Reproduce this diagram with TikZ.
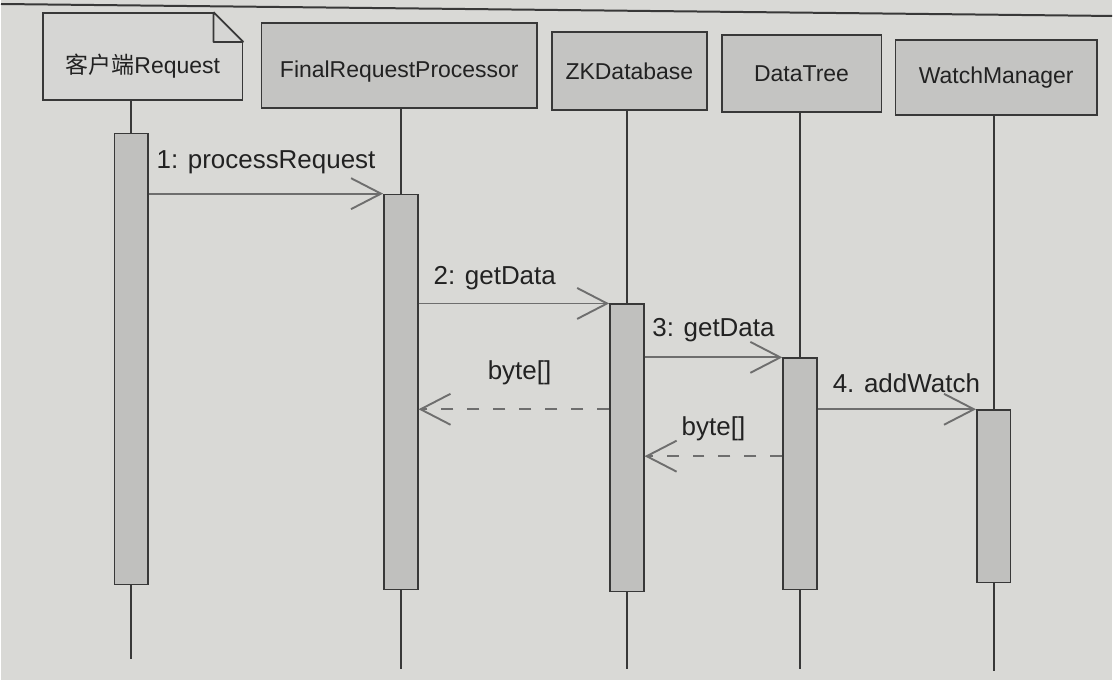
\documentclass[tikz,border=0pt]{standalone}
\usepackage{fontspec}
\setmainfont{Liberation Sans}
\newfontfamily\cjk{Noto Sans CJK SC}
\usetikzlibrary{arrows.meta}
\definecolor{paper}{HTML}{D9D9D6}
\definecolor{boxgray}{HTML}{C4C4C2}
\definecolor{notegray}{HTML}{D6D6D4}
\definecolor{actgray}{HTML}{C0C0BE}
\definecolor{edge}{HTML}{383838}
\definecolor{msggray}{HTML}{6E6E6E}
\definecolor{ink}{HTML}{222222}
\begin{document}
\begin{tikzpicture}[x=1pt,y=-1pt,
  hdr/.style={draw=edge,fill=boxgray,line width=1.8pt,inner sep=0pt,text=ink,font=\fontsize{23}{27}\selectfont},
  act/.style={draw=edge,fill=actgray,line width=1.5pt,minimum width=34pt,anchor=north,inner sep=0pt},
  life/.style={draw=edge,line width=1.7pt},
  msg/.style={draw=msggray,line width=1.9pt,-{Straight Barb[length=30pt,width=31pt]}},
  ret/.style={msg,dash pattern=on 12pt off 14pt},
  lab/.style={inner sep=0pt,text=ink,font=\fontsize{26}{30}\selectfont}]
\fill[paper] (0,0) rectangle (1113,681);
\draw[line width=2pt,edge] (0,4) -- (1113,16);
% heads
\node[hdr,fill=notegray,minimum width=200pt,minimum height=87pt,text height=34pt,text depth=0pt] (cl) at (142,56.5) {{\cjk 客户端}Request};
\fill[paper] ([xshift=-30pt]cl.north east) -- (cl.north east) -- ([yshift=-30pt]cl.north east) -- cycle;
\draw[edge,line width=1.8pt,line join=round] ([xshift=-30pt]cl.north east) -- ([yshift=-30pt]cl.north east)
  ([xshift=-30pt]cl.north east) -- ([xshift=-30pt,yshift=-30pt]cl.north east) -- ([yshift=-30pt]cl.north east);
\node[hdr,minimum width=276pt,minimum height=85pt,text height=25pt,text depth=0pt] (frp) at (399,65.5) {FinalRequestProcessor};
\node[hdr,minimum width=155pt,minimum height=78pt] (zk) at (629.5,71) {ZKDatabase};
\node[hdr,minimum width=160pt,minimum height=77pt] (dt) at (802,73.5) {DataTree};
\node[hdr,minimum width=202pt,minimum height=75pt] (wm) at (997,77.5) {WatchManager};
% activations
\node[act,minimum height=452pt] (acl) at (130.5,133) {};
\node[act,minimum height=396pt] (afrp) at (400.5,194) {};
\node[act,minimum height=288pt] (azk) at (627,304) {};
\node[act,minimum height=232pt] (adt) at (800.5,358) {};
\node[act,minimum height=173pt] (awm) at (994.5,410) {};
\foreach \h/\a/\e in {cl/acl/660,frp/afrp/670,zk/azk/670,dt/adt/670,wm/awm/672}
  \draw[life] (\a.north |- \h.south) -- (\a.north) (\a.south) -- (\a.south |- 0,\e);
% calls
\draw[msg] (acl.east |- afrp.north) -- (afrp.north west) node[lab,midway,above=19pt] {1: processRequest};
\draw[msg] (afrp.east |- azk.north) -- (azk.north west) node[lab,pos=.4,above=13pt] {2: getData};
\draw[msg] (azk.east |- adt.north) -- (adt.north west) node[lab,midway,above=15pt] {3: getData};
\draw[msg] (adt.east |- awm.north) -- (awm.north west) node[lab,pos=.56,above=16pt] {4. addWatch};
% returns
\draw[ret] (azk.west |- 0,410) -- (afrp.east |- 0,410) node[lab,pos=.47,above=23pt] {byte[]};
\draw[ret] (adt.west |- 0,457) -- (azk.east |- 0,457) node[lab,midway,above=14pt] {byte[]};
\end{tikzpicture}
\end{document}
